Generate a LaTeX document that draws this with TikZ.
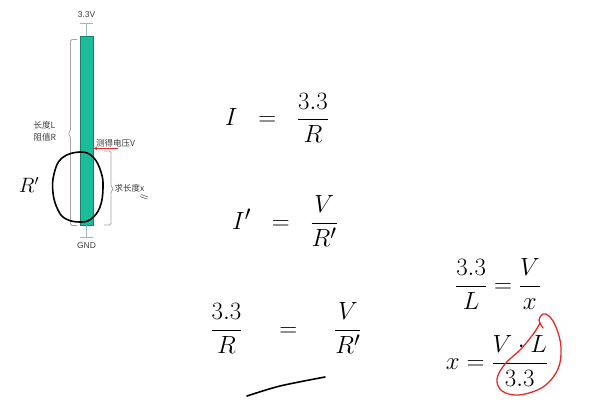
\documentclass[tikz,border=0pt]{standalone}
\usepackage{amsmath}
\usepackage{fontspec}
\usetikzlibrary{arrows.meta}
\setmainfont{Liberation Sans}
\newfontfamily\cjk{Noto Sans CJK SC}
\definecolor{barfill}{RGB}{28,188,155}
\definecolor{baredge}{RGB}{20,130,105}
\definecolor{wire}{RGB}{150,182,205}
\definecolor{bracegray}{RGB}{165,165,165}
\definecolor{labelgray}{RGB}{60,60,60}
\definecolor{penred}{RGB}{230,40,40}
\begin{document}
\begin{tikzpicture}[x=1pt,y=-1pt,
  lbl/.style={font=\cjk\fontsize{8.5}{10}\selectfont, text=labelgray, inner sep=0pt},
  barbox/.style={draw=baredge, fill=barfill, line width=0.6pt, minimum width=13pt, minimum height=189pt, inner sep=0pt},
  wireline/.style={draw=wire, line width=0.9pt},
  bracket/.style={draw=bracegray, line width=0.8pt, rounded corners=1.5pt},
  measarrow/.style={draw=penred, line width=0.8pt, -{Stealth[length=4pt,width=3.5pt]}},
  pen/.style={draw=black, line width=1.6pt, line cap=round, line join=round},
  redpen/.style={draw=penred, line width=1.3pt, line cap=round, line join=round},
  hand/.style={font=\fontsize{31}{33}\selectfont, inner sep=0pt, text=black}
]
\useasboundingbox (0,0) rectangle (592,419);

% resistor bar
\node[barbox] (bar) at (86.5,130.5) {};
\coordinate (vtop) at (86.5,23);
\coordinate (vbot) at (86.5,237);
\draw[wireline] (bar.north) -- (vtop);
\draw[wireline] (80,23) -- (93,23);
\draw[wireline] (bar.south) -- (vbot);
\draw[wireline] (80,237) -- (93,237);
\node[lbl, font=\fontsize{8.5}{10}\selectfont] (v33) at (86.5,15) {3.3V};
\node[lbl, font=\fontsize{8.5}{10}\selectfont] (gnd) at (86.5,245.5) {GND};

% left brace
\draw[bracket] (77,39.5) -- (70.5,39.5) -- (70.5,131) -- (68,133.5) -- (70.5,136) -- (70.5,225.5) -- (77,225.5);
\node[lbl, anchor=west] (lenL) at (33.5,125.5) {长度L};
\node[lbl, anchor=west] (resR) at (33.5,137.5) {阻值R};

% right brace
\draw[bracket] (104,151) -- (111,151) -- (111,186.5) -- (113.5,189) -- (111,191.5) -- (111,225) -- (104,225);
\node[lbl, anchor=west] (lenx) at (114.5,188) {求长度x};

% measured voltage arrow
\coordinate (astart) at (118,148.5);
\draw[measarrow] (astart) -- (astart -| bar.east);
\node[lbl, anchor=west] (meas) at (96,143) {测得电压V};

% hand-drawn ellipse
\draw[pen] plot[smooth cycle, tension=0.7] coordinates {(80,152) (93,157) (101,172) (103,188) (100,207) (91,219) (80,222) (66,219) (58,210) (53,193) (54,174) (62,158)};

% hand-drawn marks
\node[font=\fontsize{20}{22}\selectfont, inner sep=0pt] (rp) at (29,185) {$R'$};
\node[font=\fontsize{12}{14}\selectfont, inner sep=0pt, rotate=-20] (eqm) at (144,198) {$=$};

% formulas
\node[hand] (f1) at (277,118) {$I\;\;=\;\;\dfrac{3.3}{R}$};
\node[hand] (f2) at (285,221) {$I'\;\;=\;\;\dfrac{V}{R'}$};
\node[hand, font=\fontsize{30}{32}\selectfont] (f3) at (286,328) {$\dfrac{3.3}{R}\quad=\quad\dfrac{V}{R'}$};
\node[hand] (f4) at (498,284) {$\dfrac{3.3}{L}=\dfrac{V}{x}$};
\node[hand] (f5) at (497,361) {$x=\dfrac{V\cdot L}{3.3}$};

% underline
\draw[pen] plot[smooth] coordinates {(247,396) (280,386) (325,377)};

% red loop
\draw[redpen] plot[smooth, tension=0.6] coordinates {(543,328) (539,320) (543,314) (549,316) (556,327) (561,347) (558,369) (543,387) (519,395) (502,391) (497,379) (505,364) (521,349) (534,333) (540,323)};
\end{tikzpicture}
\end{document}
